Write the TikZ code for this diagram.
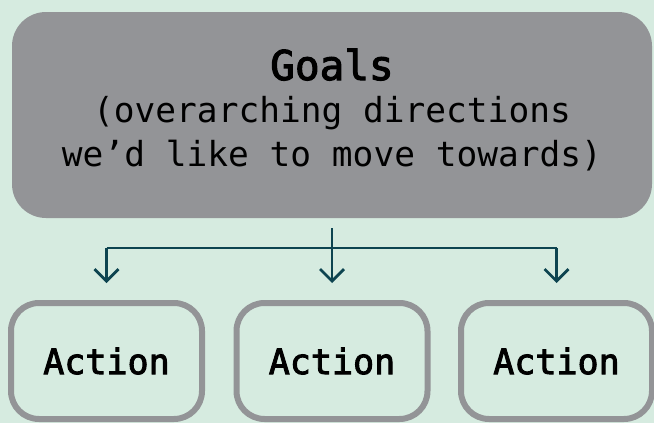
\documentclass[tikz,border=0pt]{standalone}
\usepackage{fontspec}
\setmonofont{DejaVu Sans Mono}
\newfontfamily\medmono[FakeBold=2.6]{DejaVu Sans Mono}
\usetikzlibrary{arrows.meta}
\definecolor{bgcol}{HTML}{D6EBE0}
\definecolor{boxgray}{HTML}{939497}
\definecolor{linecol}{HTML}{0D4450}
\tikzset{
  goalbox/.style={fill=boxgray, draw=none, rounded corners=34pt, minimum width=640pt, minimum height=206pt, inner sep=0pt, align=center, text=black},
  actionbox/.style={fill=bgcol, draw=boxgray, line width=6pt, rounded corners=28pt, minimum width=191pt, minimum height=116pt, inner sep=0pt,
    font=\medmono\fontsize{35}{40}\selectfont, text=black},
  conn/.style={draw=linecol, line width=2.8pt},
  arr/.style={conn, -{Straight Barb[length=12pt,width=24pt,line width=2.8pt]}}
}
\begin{document}
\begin{tikzpicture}[x=1pt,y=-1pt]
\fill[bgcol] (0,0) rectangle (654,423);
\useasboundingbox (0,0) rectangle (654,423);
\node[goalbox] (goals) at (332,115) {};
\node[font=\medmono\fontsize{41}{44}\selectfont, anchor=base] (gt) at (332,80) {Goals};
\node[font=\ttfamily\fontsize{34.5}{44}\selectfont, anchor=base] (l2) at (332,122) {(overarching directions};
\node[font=\ttfamily\fontsize{34.5}{44}\selectfont, anchor=base] (l3) at (332,166) {we’d like to move towards)};
\node[actionbox] (a1) at (106.5,361) {Action};
\node[actionbox] (a2) at (332,361) {Action};
\node[actionbox] (a3) at (556.5,361) {Action};
\coordinate (top) at (332,228);
\coordinate (hl) at (106.5,248);
\coordinate (hr) at (556.5,248);
\coordinate (hm) at (332,248);
\draw[conn] (hl) -- (hr);
\draw[arr] (top) -- ([yshift=17pt]a2.north);
\draw[arr] (hl) -- ([yshift=17pt]a1.north);
\draw[arr] (hr) -- ([yshift=17pt]a3.north);
\end{tikzpicture}
\end{document}
